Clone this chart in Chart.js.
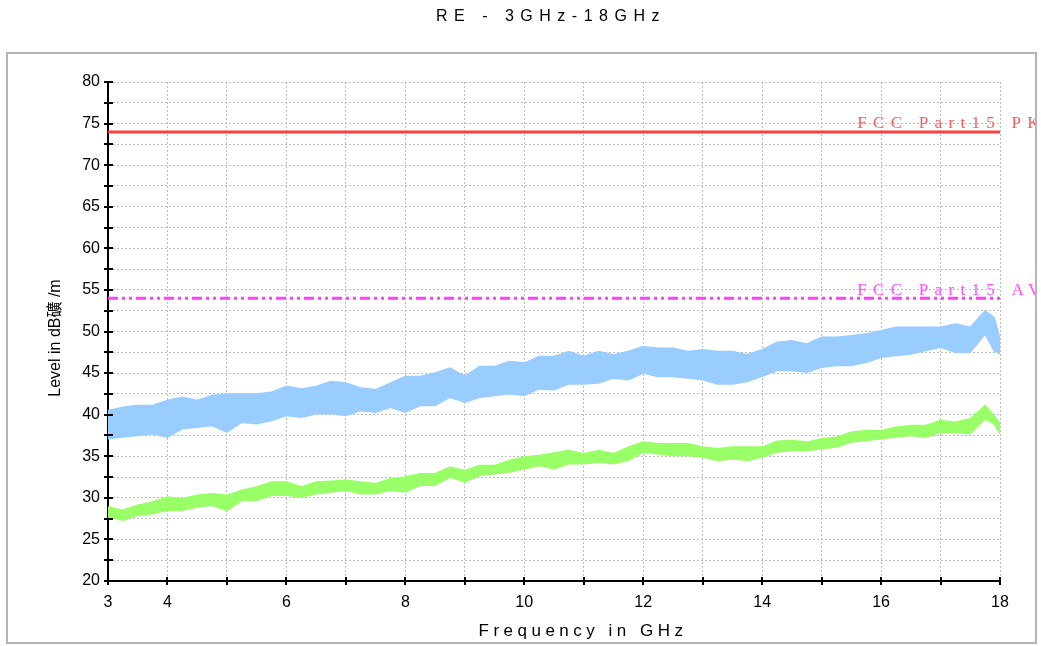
<!DOCTYPE html>
<html>
<head>
<meta charset="utf-8">
<script src="https://cdn.jsdelivr.net/npm/chart.js@4.4.0/dist/chart.umd.min.js"></script>
<style>
  html, body { margin: 0; padding: 0; background: #fff; }
  canvas { display: block; }
</style>
</head>
<body>
<canvas id="myChart" width="1041" height="646" style="width:1041px;height:646px"></canvas>
<script>
// Frequency points (GHz) the traces were read at
var freq = [3.0, 3.25, 3.5, 3.75, 4.0, 4.25, 4.5, 4.75, 5.0, 5.25, 5.5, 5.75,
            6.0, 6.25, 6.5, 6.75, 7.0, 7.25, 7.5, 7.75, 8.0, 8.25, 8.5, 8.75,
            9.0, 9.25, 9.5, 9.75, 10.0, 10.25, 10.5, 10.75, 11.0, 11.25, 11.5, 11.75,
            12.0, 12.25, 12.5, 12.75, 13.0, 13.25, 13.5, 13.75, 14.0, 14.25, 14.5, 14.75,
            15.0, 15.25, 15.5, 15.75, 16.0, 16.25, 16.5, 16.75, 17.0, 17.25, 17.5, 17.75,
            17.9, 18.0];

// Peak trace (blue): upper and lower edge of the noise band, dBuV/m
var peakHigh = [40.5, 40.9, 41.1, 41.1, 41.7, 42.1, 41.7, 42.3, 42.5, 42.5, 42.5, 42.7,
                43.4, 43.1, 43.4, 44.0, 43.8, 43.2, 43.0, 43.8, 44.6, 44.6, 45.0, 45.6,
                44.6, 45.8, 45.8, 46.4, 46.2, 47.0, 47.0, 47.6, 47.0, 47.6, 47.2, 47.6,
                48.2, 48.0, 48.0, 47.6, 47.8, 47.6, 47.6, 47.2, 47.8, 48.7, 48.9, 48.5,
                49.3, 49.3, 49.5, 49.7, 50.1, 50.5, 50.5, 50.5, 50.5, 50.9, 50.5, 52.5,
                51.7, 49.1];
var peakLow  = [37.1, 37.3, 37.5, 37.7, 37.3, 38.3, 38.5, 38.7, 37.9, 39.1, 38.9, 39.3,
                39.9, 39.7, 40.1, 40.1, 39.9, 40.5, 40.3, 40.9, 40.3, 41.1, 41.1, 42.1,
                41.5, 42.1, 42.3, 42.5, 42.3, 43.1, 43.0, 43.7, 43.7, 43.8, 44.4, 44.2,
                45.0, 44.6, 44.6, 44.4, 44.2, 43.7, 43.7, 44.0, 44.6, 45.3, 45.3, 45.1,
                45.7, 45.9, 45.9, 46.3, 46.9, 47.1, 47.3, 47.7, 48.1, 47.5, 47.5, 49.7,
                47.7, 47.3];

// Average trace (green)
var avgHigh = [28.9, 28.5, 29.1, 29.5, 30.1, 29.9, 30.3, 30.5, 30.3, 30.9, 31.3, 31.9,
               31.9, 31.3, 31.9, 32.0, 32.1, 31.9, 31.7, 32.3, 32.5, 32.9, 32.9, 33.7,
               33.3, 33.9, 33.9, 34.5, 34.9, 35.1, 35.4, 35.7, 35.3, 35.7, 35.3, 36.1,
               36.7, 36.5, 36.5, 36.5, 36.1, 35.9, 36.1, 36.1, 36.1, 36.8, 36.9, 36.7,
               37.1, 37.3, 37.9, 38.1, 38.1, 38.5, 38.7, 38.7, 39.3, 39.1, 39.5, 41.1,
               39.9, 38.9];
var avgLow  = [27.7, 27.3, 27.9, 28.1, 28.5, 28.5, 28.9, 29.1, 28.5, 29.7, 29.7, 30.3,
               30.3, 30.1, 30.5, 30.7, 30.9, 30.5, 30.5, 30.9, 30.7, 31.5, 31.5, 32.5,
               31.9, 32.7, 32.9, 33.1, 33.5, 33.9, 33.5, 34.1, 34.1, 34.3, 34.1, 34.5,
               35.5, 35.3, 35.1, 35.1, 34.9, 34.5, 34.7, 34.5, 34.9, 35.5, 35.7, 35.7,
               35.9, 36.1, 36.7, 36.9, 37.1, 37.3, 37.5, 37.3, 37.9, 37.9, 37.7, 39.5,
               38.9, 37.7];

// Limit lines
var pkLimit = 74;
var avLimit = 54;
var pkLabel = 'FCC Part15 PK';
var avLabel = 'FCC Part15 AV';

var xLabels = [3, 4, 6, 8, 10, 12, 14, 16, 18];

var chartTitle = 'RE - 3GHz-18GHz';
var xTitle = 'Frequency in GHz';
var yTitle = 'Level in dB礦 /m';

function pts(ys) {
    return freq.map(function (f, i) { return { x: f, y: ys[i] }; });
}

var blue = 'rgb(153, 204, 255)';
var green = 'rgb(153, 255, 102)';

// Frame, titles, crossing ticks and limit labels
var extras = {
    id: 'extras',
    afterDraw: function (chart) {
        var ctx = chart.ctx;
        var xs = chart.scales.x, ys = chart.scales.y;
        var area = chart.chartArea;

        ctx.save();
        ctx.strokeStyle = '#b4b4b4';
        ctx.lineWidth = 2;
        ctx.strokeRect(7, 53, 1029, 590);

        // tick marks crossing the axes
        ctx.strokeStyle = '#000';
        ctx.lineWidth = 2;
        ctx.beginPath();
        for (var g = 3; g <= 18; g++) {
            var px = Math.round(xs.getPixelForValue(g));
            ctx.moveTo(px, area.bottom - 4);
            ctx.lineTo(px, area.bottom + 4);
        }
        for (var v = 20; v <= 80; v += 2.5) {
            var py = Math.round(ys.getPixelForValue(v));
            ctx.moveTo(area.left - 4, py);
            ctx.lineTo(area.left + 5, py);
        }
        ctx.stroke();

        // titles
        ctx.fillStyle = '#000';
        ctx.textBaseline = 'middle';
        ctx.textAlign = 'center';
        ctx.font = '16px "Liberation Sans", Arial, sans-serif';
        ctx.letterSpacing = '6.5px';
        ctx.fillText(chartTitle, 551, 17);
        ctx.font = '17px "Liberation Sans", Arial, sans-serif';
        ctx.letterSpacing = '4.5px';
        ctx.fillText(xTitle, 583, 631);
        ctx.letterSpacing = '0px';
        ctx.save();
        ctx.translate(56, 338);
        ctx.rotate(-Math.PI / 2);
        ctx.font = '16px "Liberation Sans", Arial, "Noto Sans CJK SC", sans-serif';
        ctx.fillText(yTitle, 0, 0);
        ctx.restore();

        // limit labels, clipped by the frame
        ctx.save();
        ctx.beginPath();
        ctx.rect(8, 54, 1027, 588);
        ctx.clip();
        ctx.textAlign = 'left';
        ctx.textBaseline = 'alphabetic';
        ctx.font = '17px "Liberation Serif", "DejaVu Serif", serif';
        ctx.letterSpacing = '6.3px';
        ctx.fillStyle = 'rgb(255, 90, 90)';
        ctx.fillText(pkLabel, xs.getPixelForValue(15.6), ys.getPixelForValue(pkLimit) - 4);
        ctx.fillStyle = 'rgb(255, 80, 255)';
        ctx.fillText(avLabel, xs.getPixelForValue(15.6), ys.getPixelForValue(avLimit) - 3);
        ctx.restore();
        ctx.restore();
    }
};

var ctx = document.getElementById('myChart').getContext('2d');

var chart = new Chart(ctx, {
    type: 'line',
    data: {
        datasets: [
            { label: 'PK high', data: pts(peakHigh), borderColor: blue, backgroundColor: blue,
              borderWidth: 1.5, fill: '+1', pointRadius: 0, tension: 0 },
            { label: 'PK low', data: pts(peakLow), borderColor: blue, backgroundColor: blue,
              borderWidth: 1.5, fill: false, pointRadius: 0, tension: 0 },
            { label: 'AV high', data: pts(avgHigh), borderColor: green, backgroundColor: green,
              borderWidth: 1.5, fill: '+1', pointRadius: 0, tension: 0 },
            { label: 'AV low', data: pts(avgLow), borderColor: green, backgroundColor: green,
              borderWidth: 1.5, fill: false, pointRadius: 0, tension: 0 },
            { label: pkLabel, data: [{ x: 3, y: pkLimit }, { x: 18, y: pkLimit }],
              borderColor: 'rgb(255, 64, 64)', borderWidth: 3, pointRadius: 0, fill: false },
            { label: avLabel, data: [{ x: 3, y: avLimit }, { x: 18, y: avLimit }],
              borderColor: 'rgb(255, 64, 255)', borderWidth: 3, pointRadius: 0, fill: false,
              borderDash: [10, 4, 3, 4, 3, 4] }
        ]
    },
    options: {
        responsive: false,
        animation: false,
        layout: { padding: { left: 0, right: 41, top: 82, bottom: 0 } },
        plugins: {
            legend: { display: false },
            title: { display: false },
            tooltip: { enabled: false }
        },
        scales: {
            x: {
                type: 'linear',
                min: 3, max: 18,
                afterFit: function (s) { s.height = 65; },
                ticks: {
                    stepSize: 1,
                    autoSkip: false,
                    maxRotation: 0,
                    padding: 12,
                    color: '#000',
                    font: { family: '"Liberation Sans", Arial, sans-serif', size: 16 },
                    callback: function (v) { return xLabels.indexOf(v) >= 0 ? String(v) : ''; }
                },
                grid: { color: '#bdbdbd', lineWidth: 1, drawTicks: false },
                border: { color: '#000', width: 2, dash: [2, 2] }
            },
            y: {
                min: 20, max: 80,
                afterFit: function (s) { s.width = 108; },
                ticks: {
                    stepSize: 2.5,
                    autoSkip: false,
                    padding: 8,
                    color: '#000',
                    font: { family: '"Liberation Sans", Arial, sans-serif', size: 16 },
                    callback: function (v) { return v % 5 === 0 ? String(v) : ''; }
                },
                grid: { color: '#bdbdbd', lineWidth: 1, drawTicks: false },
                border: { color: '#000', width: 2, dash: [2, 2] }
            }
        }
    },
    plugins: [extras]
});
</script>
</body>
</html>
